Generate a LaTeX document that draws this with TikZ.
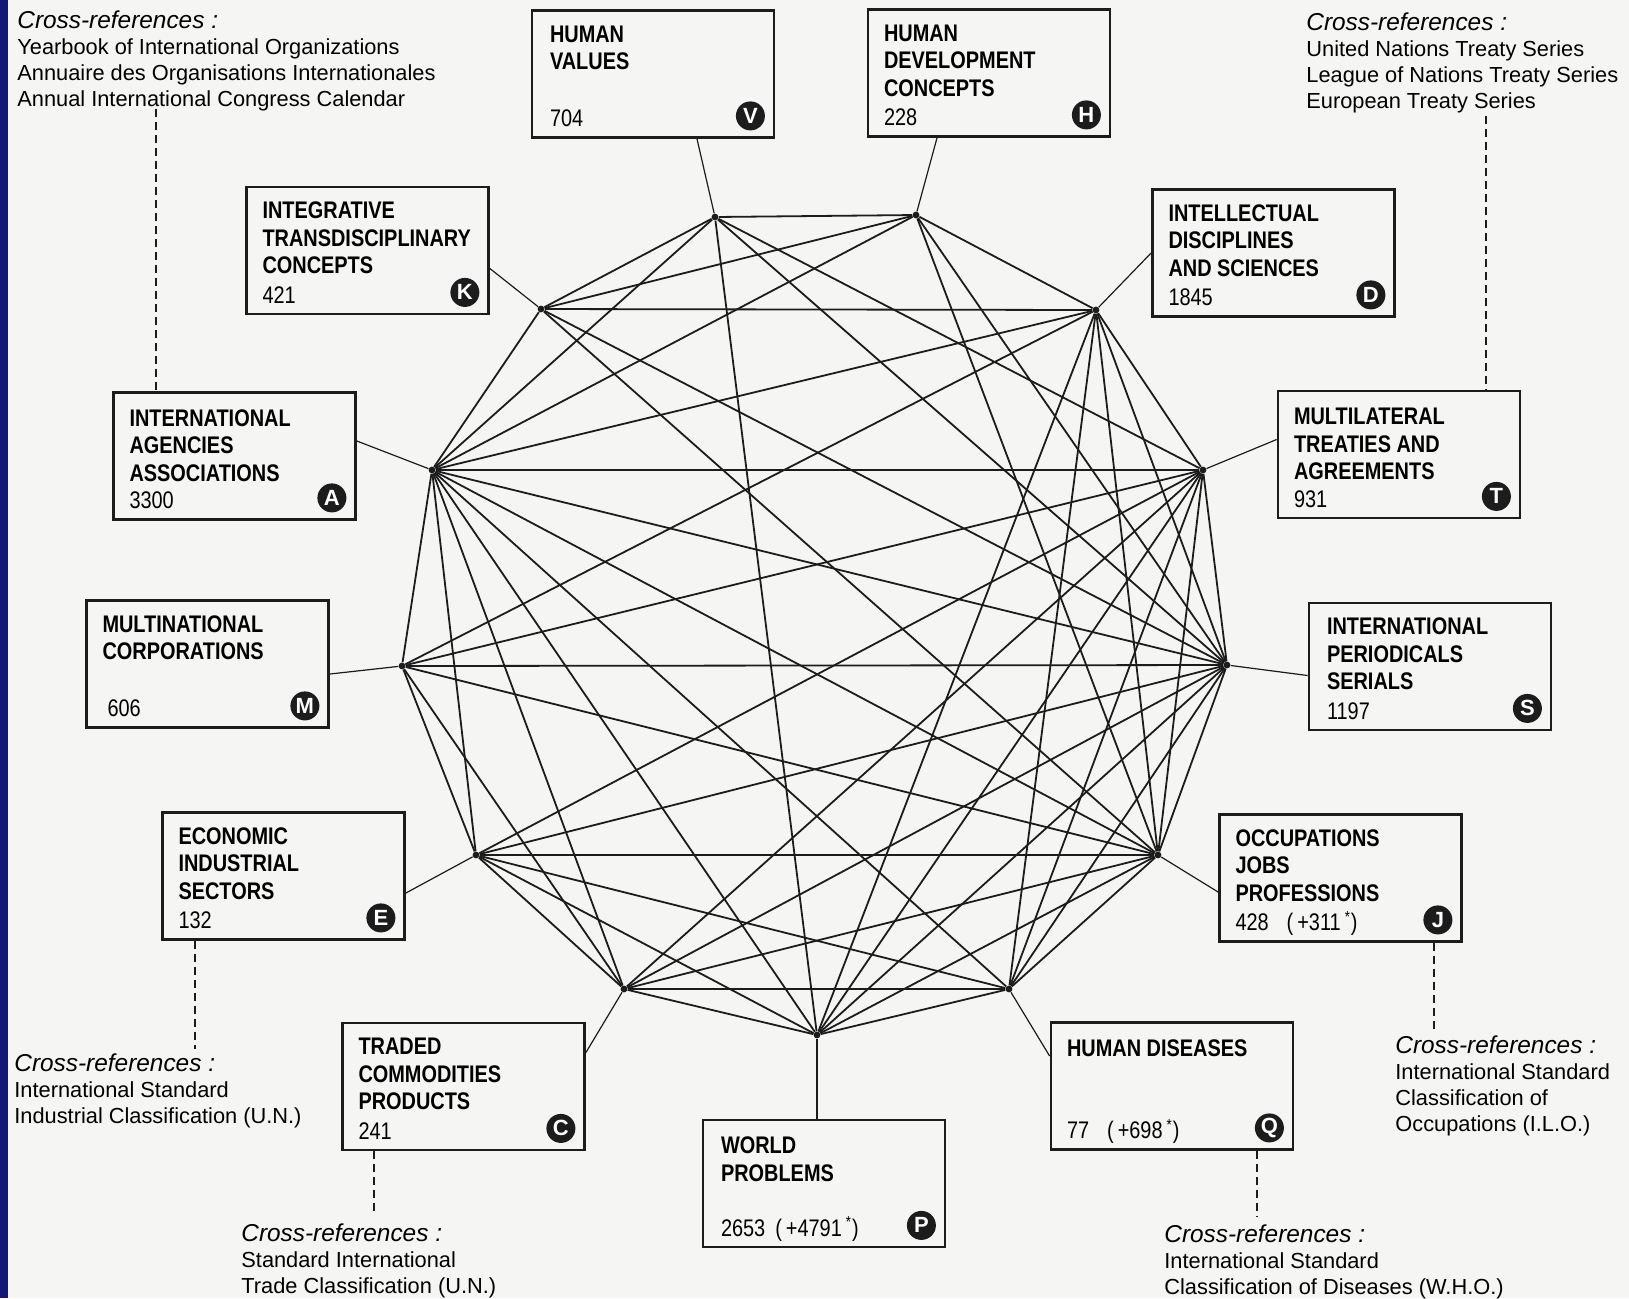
\documentclass[tikz,border=0pt]{standalone}
\usepackage{fontspec}
\setmainfont{Liberation Sans}
\newfontfamily\condsans[FakeStretch=0.83]{Liberation Sans}
\usetikzlibrary{calc}
\definecolor{paper}{RGB}{245,245,243}
\definecolor{ink}{RGB}{28,28,28}
\definecolor{scanblue}{RGB}{22,22,120}
\newcommand{\xheadfont}{\itshape\fontsize{12.2}{13}\selectfont}
\tikzset{
	hub/.style={circle, fill=ink, inner sep=0pt, minimum size=3.4pt},
	topic/.style={draw=ink, line width=1.4pt, minimum width=121pt, minimum height=63.5pt, inner sep=0pt},
	boxtitle/.style={anchor=north west, inner sep=0pt, align=left, font=\condsans\bfseries\fontsize{12}{13.75}\selectfont},
	boxcount/.style={anchor=base west, inner sep=0pt, font=\condsans\fontsize{12}{13.75}\selectfont},
	tag/.style={circle, fill=ink, text=white, inner sep=0pt, minimum size=14.5pt, font=\bfseries\fontsize{11}{11}\selectfont},
	xref/.style={anchor=north west, inner sep=0pt, align=left, font=\fontsize{10.9}{13}\selectfont},
	link/.style={draw=ink, line width=0.9pt},
	spoke/.style={draw=ink, line width=0.6pt},
	leader/.style={draw=ink, line width=0.8pt, dash pattern=on 4pt off 2.5pt}}

\begin{document}
\begin{tikzpicture}[x=0.5pt, y=-0.5pt]
	\useasboundingbox (0,0) rectangle (1629,1298);
	\fill[paper] (0,0) rectangle (1629,1298);
	\fill[scanblue] (0,0) rectangle (8,1298);
	
	% points of the ring
	\node[hub] (pV) at (715,217) {};
	\node[hub] (pH) at (916,215) {};
	\node[hub] (pD) at (1096,310) {};
	\node[hub] (pT) at (1203,470) {};
	\node[hub] (pS) at (1227,665) {};
	\node[hub] (pJ) at (1158,855) {};
	\node[hub] (pQ) at (1009,989) {};
	\node[hub] (pP) at (817,1035) {};
	\node[hub] (pC) at (624,989) {};
	\node[hub] (pE) at (476,855) {};
	\node[hub] (pM) at (402,666) {};
	\node[hub] (pA) at (432,470) {};
	\node[hub] (pK) at (541,309) {};
	
	% boxes
	\node[topic] (bV) at (653,74) {};
	\node[boxtitle] (tV) at ($(bV.north west)+(19,16)$) {HUMAN\\VALUES};
	\node[boxcount] (nV) at ($(bV.south west)+(19,-12)$) {704};
	\node[tag] (gV) at ($(bV.south east)+(-25,-23)$) {V};
	
	\node[topic] (bH) at (989,73) {};
	\node[boxtitle] (tH) at ($(bH.north west)+(17,16)$) {HUMAN\\DEVELOPMENT\\CONCEPTS};
	\node[boxcount] (nH) at ($(bH.south west)+(17,-12)$) {228};
	\node[tag] (gH) at ($(bH.south east)+(-25,-23)$) {H};
	
	\node[topic] (bK) at (367.5,250.5) {};
	\node[boxtitle] (tK) at ($(bK.north west)+(17,16)$) {INTEGRATIVE\\TRANSDISCIPLINARY\\CONCEPTS};
	\node[boxcount] (nK) at ($(bK.south west)+(17,-12)$) {421};
	\node[tag] (gK) at ($(bK.south east)+(-25,-23)$) {K};
	
	\node[topic] (bD) at (1273.5,253) {};
	\node[boxtitle] (tD) at ($(bD.north west)+(17,16)$) {INTELLECTUAL\\DISCIPLINES\\AND SCIENCES};
	\node[boxcount] (nD) at ($(bD.south west)+(17,-12)$) {1845};
	\node[tag] (gD) at ($(bD.south east)+(-25,-23)$) {D};
	
	\node[topic] (bA) at (234.5,456) {};
	\node[boxtitle] (tA) at ($(bA.north west)+(17,18)$) {INTERNATIONAL\\AGENCIES\\ASSOCIATIONS};
	\node[boxcount] (nA) at ($(bA.south west)+(17,-12)$) {3300};
	\node[tag] (gA) at ($(bA.south east)+(-25,-23)$) {A};
	
	\node[topic] (bT) at (1399,454.5) {};
	\node[boxtitle] (tT) at ($(bT.north west)+(17,18)$) {MULTILATERAL\\TREATIES AND\\AGREEMENTS};
	\node[boxcount] (nT) at ($(bT.south west)+(17,-12)$) {931};
	\node[tag] (gT) at ($(bT.south east)+(-25,-23)$) {T};
	
	\node[topic] (bM) at (207.5,664) {};
	\node[boxtitle] (tM) at ($(bM.north west)+(17,16)$) {MULTINATIONAL\\CORPORATIONS};
	\node[boxcount] (nM) at ($(bM.south west)+(22,-12)$) {606};
	\node[tag] (gM) at ($(bM.south east)+(-25,-23)$) {M};
	
	\node[topic] (bS) at (1430,666.5) {};
	\node[boxtitle] (tS) at ($(bS.north west)+(19,16)$) {INTERNATIONAL\\PERIODICALS\\SERIALS};
	\node[boxcount] (nS) at ($(bS.south west)+(19,-12)$) {1197};
	\node[tag] (gS) at ($(bS.south east)+(-25,-23)$) {S};
	
	\node[topic] (bE) at (283.5,876) {};
	\node[boxtitle] (tE) at ($(bE.north west)+(17,16)$) {ECONOMIC\\INDUSTRIAL\\SECTORS};
	\node[boxcount] (nE) at ($(bE.south west)+(17,-12)$) {132};
	\node[tag] (gE) at ($(bE.south east)+(-25,-23)$) {E};
	
	\node[topic] (bJ) at (1340.5,878) {};
	\node[boxtitle] (tJ) at ($(bJ.north west)+(17,16)$) {OCCUPATIONS\\JOBS\\PROFESSIONS};
	\node[boxcount] (nJ) at ($(bJ.south west)+(17,-12)$) {428\hspace{9pt}(\,+311\,\textsuperscript{*})};
	\node[tag] (gJ) at ($(bJ.south east)+(-25,-23)$) {J};
	
	\node[topic] (bC) at (463.5,1086.5) {};
	\node[boxtitle] (tC) at ($(bC.north west)+(17,16)$) {TRADED\\COMMODITIES\\PRODUCTS};
	\node[boxcount] (nC) at ($(bC.south west)+(17,-12)$) {241};
	\node[tag] (gC) at ($(bC.south east)+(-25,-23)$) {C};
	
	\node[topic] (bQ) at (1172,1086) {};
	\node[boxtitle] (tQ) at ($(bQ.north west)+(17,18)$) {HUMAN DISEASES};
	\node[boxcount] (nQ) at ($(bQ.south west)+(17,-12)$) {77\hspace{9pt}(\,+698\,\textsuperscript{*})};
	\node[tag] (gQ) at ($(bQ.south east)+(-25,-23)$) {Q};
	
	\node[topic] (bP) at (824,1183.5) {};
	\node[boxtitle] (tP) at ($(bP.north west)+(19,18)$) {WORLD\\PROBLEMS};
	\node[boxcount] (nP) at ($(bP.south west)+(19,-12)$) {2653\hspace{5pt}(\,+4791\,\textsuperscript{*})};
	\node[tag] (gP) at ($(bP.south east)+(-25,-23)$) {P};
	
	% spokes to the boxes
	\draw[spoke] (pV) -- ($(bV.south)+(44,0)$);
	\draw[spoke] (pH) -- ($(bH.south)+(-52,0)$);
	\draw[spoke] (pK) -- ($(bK.east)+(0,18)$);
	\draw[spoke] (pD) -- (bD.west);
	\draw[spoke] (pA) -- ($(bA.east)+(0,-15)$);
	\draw[spoke] (pT) -- ($(bT.west)+(0,-15)$);
	\draw[spoke] (pM) -- ($(bM.east)+(0,10)$);
	\draw[spoke] (pS) -- ($(bS.west)+(0,9)$);
	\draw[spoke] (pE) -- ($(bE.east)+(0,17)$);
	\draw[spoke] (pJ) -- ($(bJ.west)+(0,14)$);
	\draw[spoke] (pC) -- ($(bC.east)+(0,-34)$);
	\draw[spoke] (pQ) -- ($(bQ.west)+(0,-30)$);
	\draw[spoke] (pP) -- (pP |- bP.north);
	
	% links between the points
	\draw[link]
	(pV) edge (pH)
	(pV) edge (pT)
	(pV) edge (pS)
	(pV) edge (pP)
	(pV) edge (pK)
	(pV) edge (pA)
	(pH) edge (pK)
	(pH) edge (pA)
	(pH) edge (pD)
	(pH) edge (pJ)
	(pH) edge (pS)
	(pK) edge (pD)
	(pK) edge (pA)
	(pK) edge (pS)
	(pK) edge (pJ)
	(pD) edge (pA)
	(pD) edge (pM)
	(pD) edge (pP)
	(pD) edge (pQ)
	(pD) edge (pJ)
	(pD) edge (pS)
	(pD) edge (pT)
	(pA) edge (pT)
	(pA) edge (pS)
	(pA) edge (pJ)
	(pA) edge (pQ)
	(pA) edge (pP)
	(pA) edge (pC)
	(pA) edge (pE)
	(pA) edge (pM)
	(pS) edge (pT)
	(pS) edge (pJ)
	(pS) edge (pQ)
	(pS) edge (pP)
	(pS) edge (pC)
	(pS) edge (pE)
	(pS) edge (pM)
	(pM) edge (pT)
	(pM) edge (pJ)
	(pM) edge (pE)
	(pM) edge (pC)
	(pE) edge (pT)
	(pE) edge (pJ)
	(pE) edge (pQ)
	(pE) edge (pP)
	(pE) edge (pC)
	(pC) edge (pT)
	(pC) edge (pJ)
	(pC) edge (pQ)
	(pC) edge (pP)
	(pT) edge (pJ)
	(pT) edge (pP)
	(pT) edge (pQ)
	(pJ) edge (pP)
	(pJ) edge (pQ)
	(pP) edge (pQ)
	;
	
	% cross-references
	\node[xref] (xTL) at (17,10) {{\xheadfont Cross-references :}\\Yearbook of International Organizations\\Annuaire des Organisations Internationales\\Annual International Congress Calendar};
	\node[xref] (xTR) at (1306,12) {{\xheadfont Cross-references :}\\United Nations Treaty Series\\League of Nations Treaty Series\\European Treaty Series};
	\node[xref] (xE) at (14,1053) {{\xheadfont Cross-references :}\\International Standard\\Industrial Classification (U.N.)};
	\node[xref] (xC) at (241,1223) {{\xheadfont Cross-references :}\\Standard International\\Trade Classification (U.N.)};
	\node[xref] (xJ) at (1395,1035) {{\xheadfont Cross-references :}\\International Standard\\Classification of\\Occupations (I.L.O.)};
	\node[xref] (xQ) at (1164,1224) {{\xheadfont Cross-references :}\\International Standard\\Classification of Diseases (W.H.O.)};
	
	\coordinate (lA) at (156,109);
	\coordinate (lT) at (1486,116);
	\coordinate (lE) at (195,1049);
	\coordinate (lC) at (374,1216);
	\coordinate (lJ) at (1434,1029);
	\coordinate (lQ) at (1257,1216);
	\draw[leader] (lA) -- (lA |- bA.north);
	\draw[leader] (lT) -- (lT |- bT.north);
	\draw[leader] (lE |- bE.south) -- (lE);
	\draw[leader] (lC |- bC.south) -- (lC);
	\draw[leader] (lJ |- bJ.south) -- (lJ);
	\draw[leader] (lQ |- bQ.south) -- (lQ);
	
\end{tikzpicture}
\end{document}
